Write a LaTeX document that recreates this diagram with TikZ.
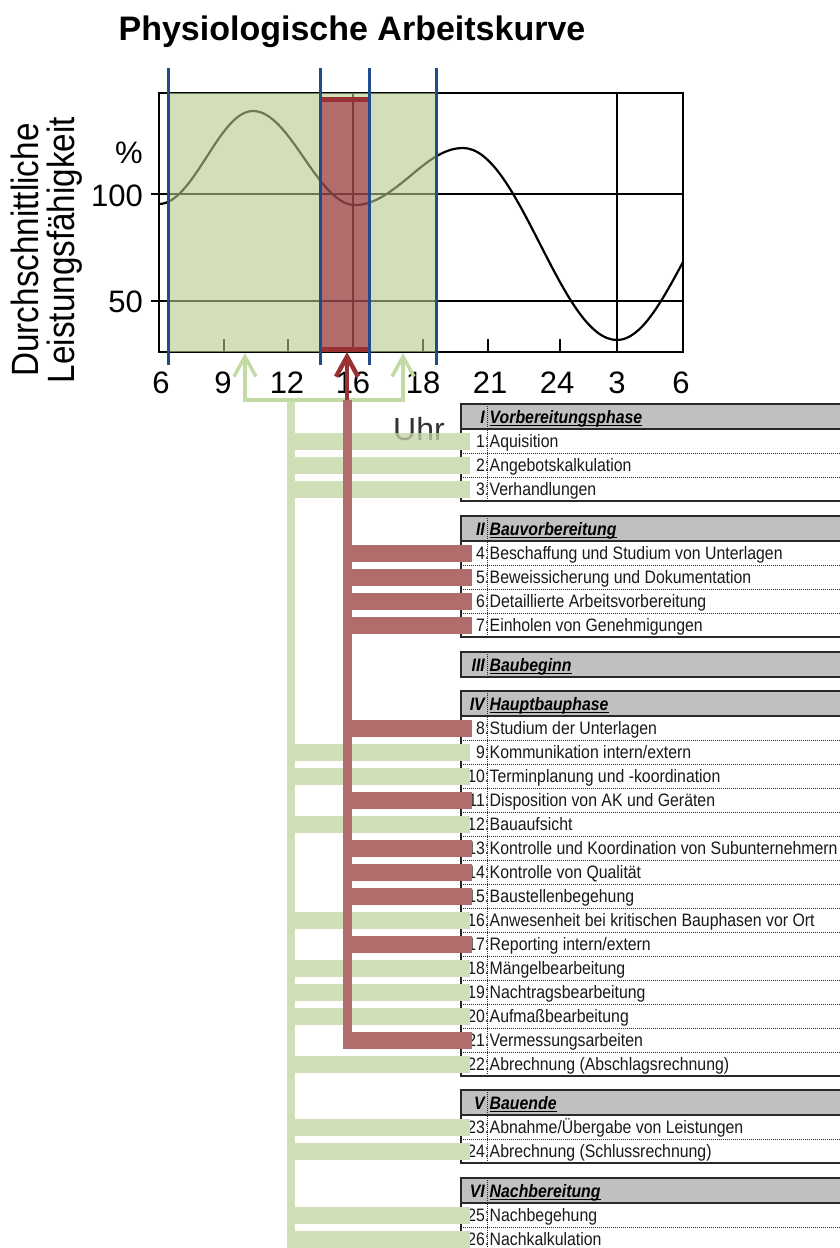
\documentclass[tikz,border=0pt]{standalone}
\usepackage{fontspec}
\setmainfont{Liberation Sans}
\newfontfamily\narrowfont[FakeStretch=0.88]{Liberation Sans}
\newfontfamily\labelfont[FakeStretch=0.875]{Liberation Sans}
\usetikzlibrary{arrows.meta,calc}

\definecolor{chartgreen}{RGB}{182,203,142}
\definecolor{bargreen}{RGB}{208,223,183}
\definecolor{bracketgreen}{RGB}{196,218,165}
\definecolor{bandred}{RGB}{179,108,108}
\definecolor{edgered}{RGB}{152,50,50}
\definecolor{gridred}{RGB}{120,60,60}
\definecolor{markblue}{RGB}{32,76,140}
\definecolor{headgray}{RGB}{192,192,192}
\definecolor{framegray}{RGB}{40,40,40}
\definecolor{inkgray}{RGB}{25,25,25}
\definecolor{uhrgray}{RGB}{50,50,50}

\tikzset{
  grid line/.style={line width=1.4pt, black},
  blue mark/.style={line width=3pt, markblue},
  axis num/.style={font=\fontsize{31}{34}\selectfont, inner sep=0pt, text=black},
  rowtext/.style={font=\narrowfont\fontsize{18}{20}\selectfont, inner sep=0pt, text=inkgray},
  headtext/.style={font=\narrowfont\fontsize{18}{20}\selectfont\bfseries\itshape, inner sep=0pt, text=black},
  uhrtext/.style={font=\fontsize{32}{36}\selectfont, inner sep=0pt, text=uhrgray},
  gbar/.style={line width=17pt, bargreen},
  rbar/.style={line width=17pt, bandred},
  gtrunk/.style={line width=8pt, bargreen},
  rtrunk/.style={line width=9pt, bandred},
  bracket/.style={line width=3.5pt, bracketgreen},
  sectionframe/.style={line width=1.5pt, framegray},
  rowsep/.style={densely dotted, line width=1pt, framegray},
  barb/.tip={Straight Barb[length=20pt,width=22pt]},
}

% performance curve across the day
\newcommand{\workcurve}[1]{%
  \draw[#1] (159,204) cos (206,158) sin (253,111) cos (304,158) sin (355,205)
    cos (409,177) sin (463,148) cos (540,244) sin (617,340) cos (683,262);}

\begin{document}
\begin{tikzpicture}[x=1pt,y=-1pt]
\useasboundingbox (0,0) rectangle (840,1248);
\clip (0,0) rectangle (840,1248);
\fill[white] (0,0) rectangle (840,1248);

% title
\node[anchor=base, inner sep=0pt, font=\fontsize{34}{40}\selectfont\bfseries] (title) at (352,40) {Physiologische Arbeitskurve};

% chart frame, grid and ticks
\draw[grid line] (159,93) rectangle (683,352);
\draw[grid line] (151,194) -- (683,194);
\draw[grid line] (151,301) -- (683,301);
\draw[grid line] (353,93) -- (353,352);
\draw[grid line] (617,93) -- (617,352);
\foreach \tx in {224,288,423,488,560} \draw[grid line] (\tx,352) -- (\tx,339);
\workcurve{line width=2.2pt, black}

% working time span
\fill[chartgreen, opacity=0.6] (168,93) rectangle (436,352);

% afternoon low
\fill[bandred] (320,97) rectangle (369,352);
\begin{scope}
  \clip (320,97) rectangle (369,352);
  \draw[gridred, line width=1.4pt] (320,194) -- (369,194) (320,301) -- (369,301) (353,97) -- (353,352);
  \workcurve{line width=2.2pt, gridred}
\end{scope}
\draw[edgered, line width=5pt] (320,99.5) -- (369,99.5);
\draw[edgered, line width=5pt] (320,349.5) -- (369,349.5);

% time markers
\foreach \bx in {168,320,369,436} \draw[blue mark] (\bx,68) -- (\bx,365);

% axis labels
\node[axis num, anchor=base east] (pct) at (143,163) {\%};
\node[axis num, anchor=base east] (v100) at (143,206) {100};
\node[axis num, anchor=base east] (v50) at (143,312) {50};
\foreach \lx/\lt [count=\i] in {161/6, 223/9, 287/12, 353/16, 423/18, 490/21, 557/24, 617/3, 681/6}
  \node[axis num, anchor=base] (hx\i) at (\lx,393) {\lt};
\node[rotate=90, align=center, inner sep=0pt, font=\labelfont\fontsize{38}{36}\selectfont] (ytitle) at (47,250) {Durchschnittliche\\Leistungsfähigkeit};
\node[uhrtext, anchor=base west] (uhr) at (393,440) {Uhr};

% table: section headers
\foreach \sn/\st/\top/\bot [count=\s] in {I/Vorbereitungsphase/404/501, II/Bauvorbereitung/516/637, III/Baubeginn/652/677, IV/Hauptbauphase/691/1076, V/Bauende/1090/1163, VI/Nachbereitung/1178/1251}
  \fill[headgray] (461,\top) rectangle (850,\top+25);

% table: rows
\foreach \k/\y/\t in {1/441/Aquisition, 2/465/Angebotskalkulation, 3/489/Verhandlungen,
  4/553/Beschaffung und Studium von Unterlagen, 5/577/Beweissicherung und Dokumentation,
  6/601/Detaillierte Arbeitsvorbereitung, 7/625/Einholen von Genehmigungen,
  8/728/Studium der Unterlagen, 9/752/{Kommunikation intern/extern},
  10/776/Terminplanung und -koordination, 11/800/Disposition von AK und Geräten,
  12/824/Bauaufsicht, 13/848/Kontrolle und Koordination von Subunternehmern,
  14/872/Kontrolle von Qualität, 15/896/Baustellenbegehung,
  16/920/Anwesenheit bei kritischen Bauphasen vor Ort, 17/944/{Reporting intern/extern},
  18/968/Mängelbearbeitung, 19/992/Nachtragsbearbeitung, 20/1016/Aufmaßbearbeitung,
  21/1040/Vermessungsarbeiten, 22/1064/Abrechnung (Abschlagsrechnung),
  23/1127/{Abnahme/Übergabe von Leistungen}, 24/1151/Abrechnung (Schlussrechnung),
  25/1215/Nachbegehung, 26/1239/Nachkalkulation} {
  \draw[rowsep] (461,\y+12) -- (850,\y+12);
  \node[rowtext, anchor=base east] (n\k) at (489.5,\y+6) {\k:};
  \node[rowtext, anchor=base west] (t\k) at (489.5,\y+6) {\t};
  \coordinate (r\k) at (470,\y);
}

% table: frames and header texts
\foreach \sn/\st/\top/\bot [count=\s] in {I/Vorbereitungsphase/404/501, II/Bauvorbereitung/516/637, III/Baubeginn/652/677, IV/Hauptbauphase/691/1076, V/Bauende/1090/1163, VI/Nachbereitung/1178/1251} {
  \draw[rowsep] (487,\top) -- (487,\bot);
  \draw[sectionframe] (461,\top) rectangle (850,\bot);
  \draw[sectionframe] (461,\top+25) -- (850,\top+25);
  \node[headtext, anchor=base east] (sn\s) at (485,\top+19) {\sn};
  \node[headtext, anchor=base west] (st\s) at (489.5,\top+19) {\st};
  \draw[line width=1pt] ($(st\s.base west)+(0,2.5)$) -- ($(st\s.base east)+(0,2.5)$);
}

% connector anchors
\coordinate (gL) at (245,353);
\coordinate (gR) at (403,353);
\coordinate (gJoin) at (291,400);
\coordinate (gBarStart) at (288,400);
\coordinate (gBottom) at (291,1252);
\coordinate (rTip) at (347,352);
\coordinate (rTop) at (347,400);

% green: tasks during the productive hours
\draw[gtrunk] (gJoin) -- (gBottom);
\foreach \k in {1,2,3,9,10,12,16,18,19,20,22,23,24,25,26}
  \draw[gbar] (gBarStart |- r\k) -- (r\k);
\begin{scope}
  \clip (380,432.5) rectangle (460,449.5);
  \node[uhrtext, anchor=base west, opacity=0.3] (uhrshade) at (393,440) {Uhr};
\end{scope}
\draw[bracket, barb-barb] (gL) -- (gL |- gJoin) -- (gR |- gJoin) -- (gR);

% red: tasks during the afternoon low
\draw[rtrunk] (rTop) -- ($(rTop |- r21)+(0,8.5)$);
\foreach \k in {4,5,6,7,8,11,13,14,15,17,21}
  \draw[rbar] ($(rTop |- r\k)+(-4.5,0)$) -- ($(r\k)+(2,0)$);
\draw[edgered, line width=4.5pt, -barb] (rTop) -- (rTip);
\end{tikzpicture}
\end{document}
